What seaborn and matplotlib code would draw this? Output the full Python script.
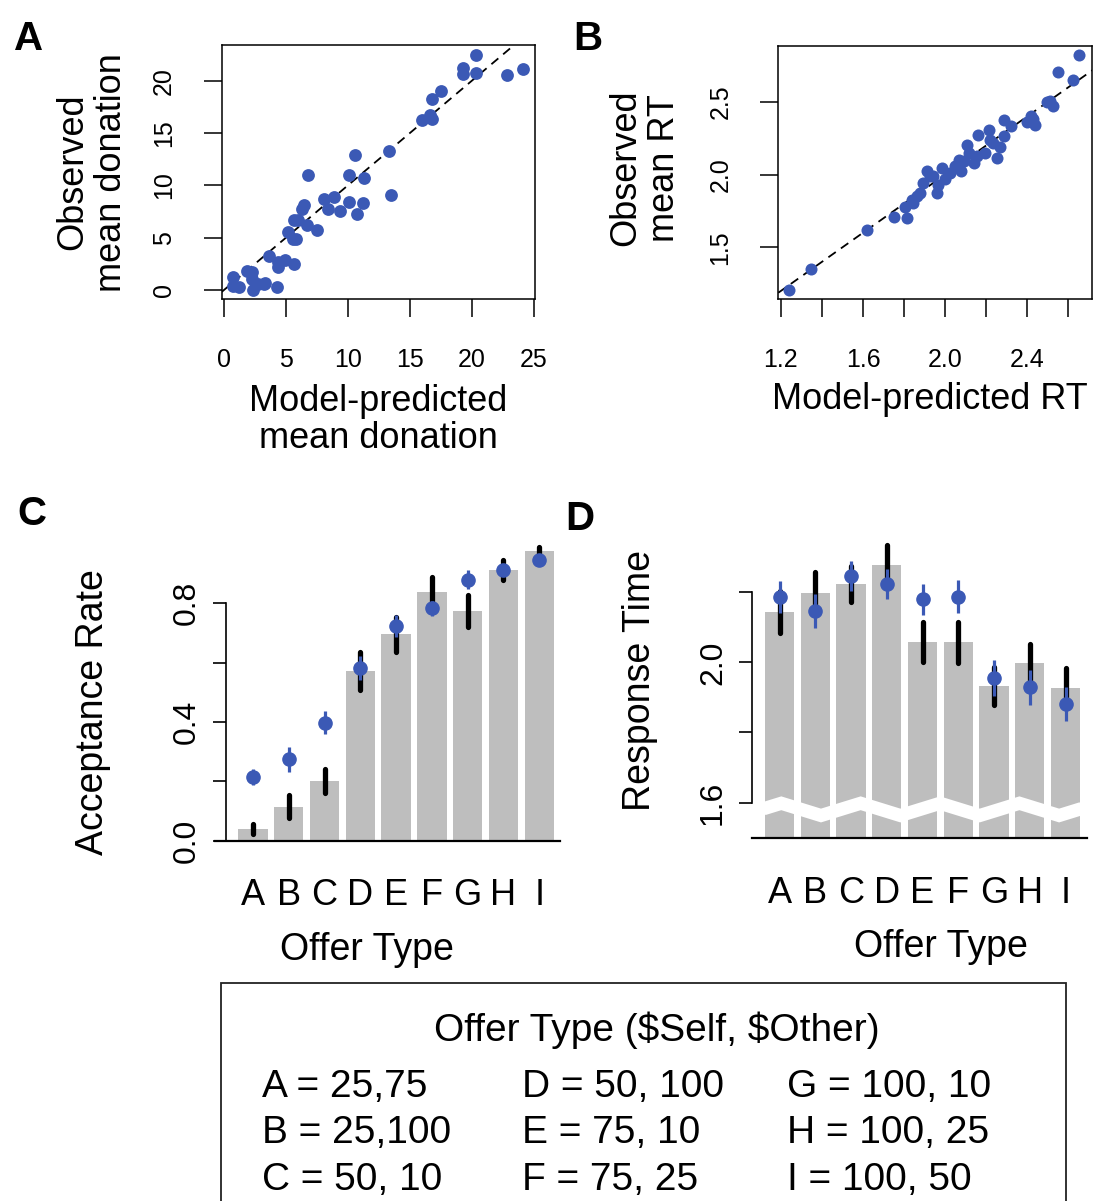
import numpy as np
import pandas as pd
import matplotlib
matplotlib.use("Agg")
import matplotlib.pyplot as plt
from matplotlib.patches import Rectangle
import seaborn as sns

sns.set_theme(style="white")
plt.rcParams['font.family'] = ['Liberation Sans', 'DejaVu Sans']
plt.rcParams.update({"text.color": "black", "axes.labelcolor": "black",
                     "xtick.color": "black", "ytick.color": "black"})

# ---- Panel A: mean donation per subject, model vs observed ----
donation_pred = [20.3, 19.3, 19.3, 20.3, 22.85, 24.1, 17.5, 16.8, 16.6, 16.0,
                 16.8, 13.3, 10.6, 10.05, 11.3, 6.8, 13.5, 8.06, 8.9, 10.05,
                 11.2, 8.4, 9.35, 10.75, 6.45, 6.27, 5.67, 6.0, 6.7, 7.5,
                 5.19, 5.6, 5.8, 3.66, 4.35, 4.35, 4.95, 5.67, 1.83, 2.23,
                 2.23, 0.75, 0.75, 1.24, 2.37, 2.77, 3.3, 4.25, 3.2]
donation_obs = [22.4, 21.2, 20.6, 20.75, 20.5, 21.1, 19.0, 18.2, 16.7, 16.2,
                16.3, 13.3, 12.9, 11.0, 10.7, 10.95, 9.1, 8.7, 8.9, 8.4,
                8.3, 7.7, 7.5, 7.3, 8.15, 7.7, 6.7, 6.7, 6.25, 5.73,
                5.5, 4.87, 4.87, 3.28, 2.64, 2.2, 2.87, 2.45, 1.85, 1.69,
                1.02, 1.27, 0.38, 0.32, 0.0, 0.57, 0.64, 0.32, 0.6]

# ---- Panel B: mean response time per subject, model vs observed ----
rt_pred = [2.653, 2.548, 2.624, 2.494, 2.523, 2.51, 2.429, 2.439, 2.397, 2.288,
           2.318, 2.215, 2.16, 2.284, 2.235, 2.268, 2.196, 2.251, 2.105, 2.118,
           2.069, 2.138, 2.079, 2.024, 1.983, 1.91, 1.943, 1.894, 1.967, 1.959,
           1.878, 1.845, 1.806, 1.812, 1.751, 1.618, 1.346, 1.242, 1.927, 1.998,
           1.862, 1.838, 2.048, 2.092, 2.153, 2.218, 2.42]
rt_obs = [2.819, 2.705, 2.646, 2.497, 2.469, 2.503, 2.382, 2.339, 2.359, 2.373,
          2.332, 2.309, 2.272, 2.263, 2.218, 2.19, 2.149, 2.115, 2.201, 2.149,
          2.103, 2.08, 2.023, 2.012, 2.046, 2.023, 1.989, 1.943, 1.93, 1.874,
          1.874, 1.805, 1.775, 1.703, 1.705, 1.618, 1.352, 1.205, 1.989, 1.966,
          1.852, 1.828, 2.058, 2.092, 2.126, 2.24, 2.40]

# ---- Panels C and D: per offer type ----
offer_types = ["A", "B", "C", "D", "E", "F", "G", "H", "I"]
accept_obs = [0.038, 0.115, 0.202, 0.572, 0.695, 0.838, 0.774, 0.912, 0.975]
accept_obs_se = [0.017, 0.038, 0.041, 0.065, 0.058, 0.050, 0.053, 0.035, 0.013]
accept_model = [0.215, 0.274, 0.398, 0.581, 0.723, 0.783, 0.879, 0.912, 0.944]
accept_model_se = [0.026, 0.041, 0.038, 0.040, 0.036, 0.025, 0.032, 0.020, 0.010]

resp_obs = [2.143, 2.197, 2.224, 2.278, 2.058, 2.057, 1.933, 1.998, 1.928]
resp_obs_se = [0.060, 0.060, 0.051, 0.057, 0.057, 0.059, 0.054, 0.055, 0.055]
resp_model = [2.186, 2.147, 2.247, 2.223, 2.180, 2.188, 1.955, 1.929, 1.881]
resp_model_se = [0.045, 0.049, 0.043, 0.043, 0.045, 0.047, 0.052, 0.050, 0.048]

legend_title = "Offer Type ($Self, $Other)"
legend_rows = ["A = 25,75", "B = 25,100", "C = 50, 10",
               "D = 50, 100", "E = 75, 10", "F = 75, 25",
               "G = 100, 10", "H = 100, 25", "I = 100, 50"]

BLUE = "#3B59B5"
GRAY = "#BEBEBE"
W, H = 1098, 1201

fig = plt.figure(figsize=(W / 100, H / 100), dpi=100)


def scatter_panel(rect, x, y, xlim, ylim, xticks, xticklabels, yticks, yticklabels, size):
    ax = fig.add_axes(rect)
    sns.scatterplot(x=x, y=y, ax=ax, color=BLUE, s=size, linewidth=0, zorder=3)
    ax.axline((1.0, 1.0), slope=1, color="black", lw=1.3, dashes=(5, 3.5), zorder=2)
    ax.set_xlim(*xlim)
    ax.set_ylim(*ylim)
    ax.set_xticks(xticks)
    ax.set_xticklabels(xticklabels)
    ax.set_yticks(yticks)
    ax.set_yticklabels(yticklabels)
    for s in ax.spines.values():
        s.set_visible(True)
        s.set_color("black")
        s.set_linewidth(1.1)
    ax.tick_params(axis="both", direction="out", length=13, width=1.1, color="black",
                   labelsize=18, labelcolor="black")
    ax.tick_params(axis="x", pad=22, bottom=True)
    ax.tick_params(axis="y", pad=20, left=True, labelrotation=90)
    for t in ax.get_yticklabels():
        t.set_verticalalignment("center")
    return ax


# Panel A
axA = scatter_panel([221.7 / W, 1 - 299.3 / H, 313.3 / W, 254.3 / H],
                    donation_pred, donation_obs, (-0.185, 25.08), (-0.89, 23.4),
                    [0, 5, 10, 15, 20, 25], ["0", "5", "10", "15", "20", "25"],
                    [0, 5, 10, 15, 20], ["0", "5", "10", "15", "20"], 85)
axA.set_xlabel("Model-predicted\nmean donation", fontsize=26, linespacing=1.05)
axA.set_ylabel("Observed\nmean donation", fontsize=26, linespacing=1.12)

# Panel B
b_ticks = [1.2, 1.4, 1.6, 1.8, 2.0, 2.2, 2.4, 2.6]
axB = scatter_panel([778.3 / W, 1 - 299.3 / H, 314 / W, 253.6 / H],
                    rt_pred, rt_obs, (1.188, 2.716), (1.143, 2.885),
                    b_ticks, ["1.2", "", "1.6", "", "2.0", "", "2.4", ""],
                    [1.5, 2.0, 2.5], ["1.5", "2.0", "2.5"], 75)
axB.set_xlabel("Model-predicted RT", fontsize=26)
axB.set_ylabel("Observed\nmean RT", fontsize=26, linespacing=1.12)


def bar_panel(rect, obs, obs_se, model, model_se, xlim, ylim):
    ax = fig.add_axes(rect)
    df = pd.DataFrame({"offer": offer_types, "value": obs})
    sns.barplot(data=df, x="offer", y="value", ax=ax, color=GRAY, saturation=1,
                width=0.82, errorbar=None, linewidth=0, zorder=1)
    pos = np.arange(len(offer_types))
    eb = ax.errorbar(pos, obs, yerr=obs_se, fmt="none", ecolor="black",
                     elinewidth=3.8, capsize=0, zorder=4)
    for c in eb[2]:
        c.set_capstyle("round")
    ax.errorbar(pos, model, yerr=model_se, fmt="o", color=BLUE, mec=BLUE, ms=9.5,
                elinewidth=2.3, capsize=0, zorder=5)
    ax.set_xlim(*xlim)
    ax.set_ylim(*ylim)
    for side in ("top", "right"):
        ax.spines[side].set_visible(False)
    ax.spines["left"].set_color("black")
    ax.spines["left"].set_linewidth(1.2)
    ax.spines["bottom"].set_color("black")
    ax.spines["bottom"].set_linewidth(1.6)
    ax.tick_params(axis="x", length=0, pad=27, labelsize=26, labelcolor="black")
    ax.tick_params(axis="y", direction="out", length=9.5, width=1.2, color="black",
                   left=True, pad=8, labelsize=23, labelcolor="black", labelrotation=90)
    ax.set_xlabel("Offer Type", fontsize=27)
    return ax


# Panel C
axC = bar_panel([226 / W, 1 - 840.7 / H, 334 / W, 300.7 / H],
                accept_obs, accept_obs_se, accept_model, accept_model_se,
                (-0.755, 8.58), (0, 1.013))
axC.set_yticks([0, 0.2, 0.4, 0.6, 0.8])
axC.set_yticklabels(["0.0", "", "0.4", "", "0.8"])
axC.spines["left"].set_bounds(0, 0.8)
axC.spines["bottom"].set_bounds(-1.07, 8.58)
axC.set_ylabel("Acceptance Rate", fontsize=27)

# Panel D
axD = bar_panel([752.3 / W, 1 - 838.3 / H, 334.7 / W, 302 / H],
                resp_obs, resp_obs_se, resp_model, resp_model_se,
                (-0.761, 8.6), (1.498, 2.36))
axD.set_yticks([1.6, 1.8, 2.0, 2.2])
axD.set_yticklabels(["1.6", "", "2.0", ""])
axD.spines["left"].set_bounds(1.6, 2.2)
axD.set_ylabel("Response Time", fontsize=27)

# axis break drawn across the truncated bars
zig_x = np.array([-1.06, 0.05, 1.16, 2.27, 3.38, 4.49, 5.60, 6.71, 7.82, 8.93])
zig_y = np.where(np.arange(len(zig_x)) % 2 == 1, 1.598, 1.563)
xs = np.concatenate([[-0.45], zig_x[(zig_x > -0.45) & (zig_x < 8.45)], [8.45]])
axD.plot(xs, np.interp(xs, zig_x, zig_y), color="white", lw=9.5,
         solid_joinstyle="miter", solid_capstyle="butt", zorder=2)

for ax in (axC, axD):
    for t in ax.get_yticklabels():
        t.set_verticalalignment("center")

# axis label placement (axes-fraction centres)
label_pos = {
    axA: ((0.5, -0.475), (-0.414, 0.5)),
    axB: ((0.483, -0.397), (-0.4245, 0.518)),
    axC: ((0.422, -0.3635), (-0.398, 0.428)),
    axD: ((0.564, -0.36), (-0.3355, 0.524)),
}
for ax, (xl, yl) in label_pos.items():
    ax.xaxis.label.set_verticalalignment("center")
    ax.yaxis.label.set_verticalalignment("center")
    ax.xaxis.set_label_coords(*xl)
    ax.yaxis.set_label_coords(*yl)

# panel letters
for letter, (px, py) in {"A": (14, 50), "B": (573, 50), "C": (17, 525), "D": (565, 530)}.items():
    fig.text(px / W, 1 - py / H, letter, fontsize=29, fontweight="bold",
             ha="left", va="baseline", color="black")

# offer-type key
fig.add_artist(Rectangle((221 / W, -0.02), 845 / W, 1 - 983 / H + 0.02,
                         transform=fig.transFigure, fill=False, lw=1.3,
                         edgecolor="#222222"))
fig.text(657 / W, 1 - 1041 / H, legend_title, fontsize=28, ha="center",
         va="baseline", parse_math=False)
col_x = [262, 522, 787]
row_y = [1097, 1143, 1190]
for i, row in enumerate(legend_rows):
    fig.text(col_x[i // 3] / W, 1 - row_y[i % 3] / H, row, fontsize=28,
             ha="left", va="baseline")

fig.savefig("out.png", dpi=100)
